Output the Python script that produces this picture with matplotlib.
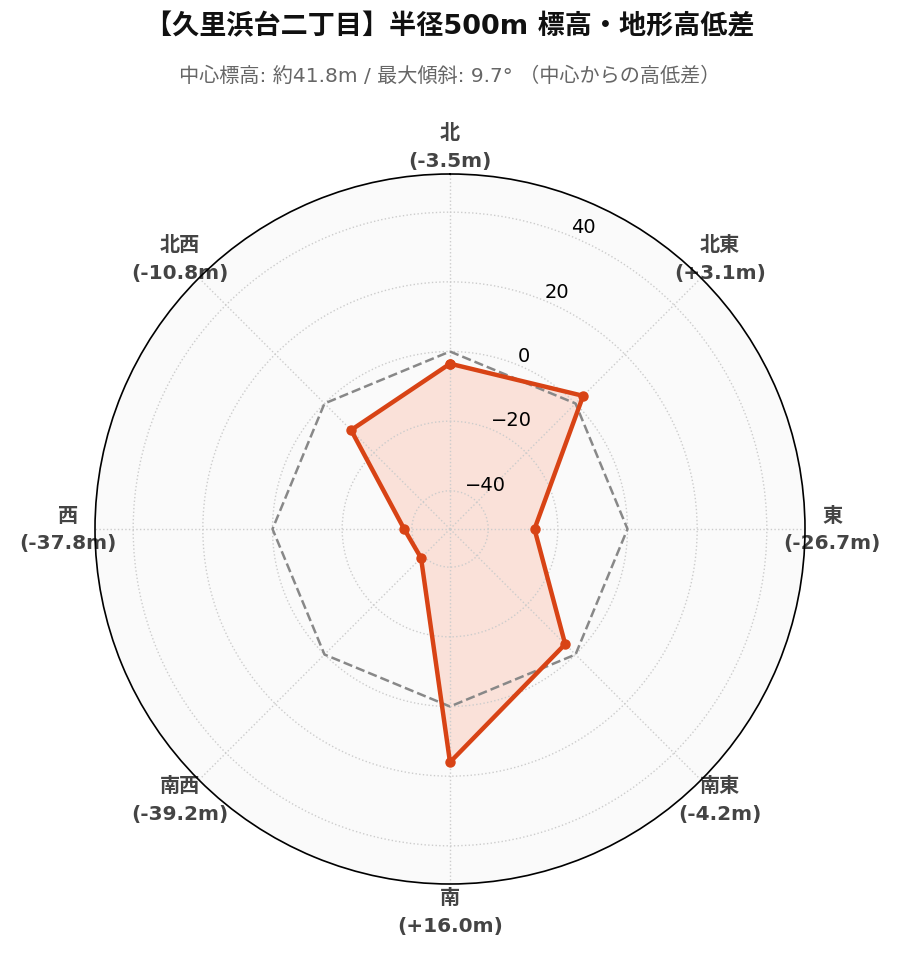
import numpy as np
import matplotlib
matplotlib.use("Agg")
import matplotlib.pyplot as plt

# 方位ごとの中心からの高低差 (m)
directions = ['北', '北東', '東', '南東', '南', '南西', '西', '北西']
diffs = [-3.5, 3.1, -26.7, -4.2, 16.0, -39.2, -37.8, -10.8]
r_ticks = [-40, -20, 0, 20, 40]

title = '【久里浜台二丁目】半径500m 標高・地形高低差'
subtitle = '中心標高: 約41.8m / 最大傾斜: 9.7° （中心からの高低差）'

jp = ['DejaVu Sans', 'Noto Sans CJK JP']

angles = np.linspace(0, 2 * np.pi, len(directions), endpoint=False)
ang_closed = np.append(angles, angles[0])
vals_closed = np.append(diffs, diffs[0])

fig = plt.figure(figsize=(8.99, 9.62), dpi=100)
ax = fig.add_axes([95 / 899, 77 / 962, 710 / 899, 710 / 962], projection='polar')
ax.set_theta_zero_location('N')
ax.set_theta_direction(-1)
ax.set_facecolor('#fafafa')

lim = max(abs(v) for v in diffs) * 1.3
ax.set_ylim(-lim, lim)

# zero reference
ax.plot(ang_closed, np.zeros_like(ang_closed), color='#888888', lw=1.8, ls='--')

ax.fill(ang_closed, vals_closed, color='#ff5722', alpha=0.15, lw=0)
ax.plot(ang_closed, vals_closed, color='#d84315', lw=3.2, marker='o', markersize=6.5)

ax.set_yticks(r_ticks)
ax.set_rlabel_position(22.5)
ax.tick_params(axis='y', labelsize=14)
ax.set_xticks(angles)
labels = [f'{d}\n({v:.1f}m)' if v < 0 else f'{d}\n(+{v:.1f}m)'
          for d, v in zip(directions, diffs)]
ax.set_xticklabels(labels, fontsize=14.5, fontweight='bold', color='#444444',
                   family=jp, linespacing=1.6)
ax.tick_params(axis='x', pad=9)
ax.grid(True, color='#cccccc', ls=':', lw=1)
ax.spines['polar'].set_color('black')
ax.spines['polar'].set_linewidth(1.2)

fig.text(0.5, 1 - 27 / 962, title, ha='center', va='center', fontsize=19.5,
         fontweight='bold', color='#111111', family=jp)
fig.text(0.5, 1 - 76 / 962, subtitle, ha='center', va='center', fontsize=14.5,
         color='#666666', family=jp)

fig.savefig('out.png', dpi=100, facecolor='white')
